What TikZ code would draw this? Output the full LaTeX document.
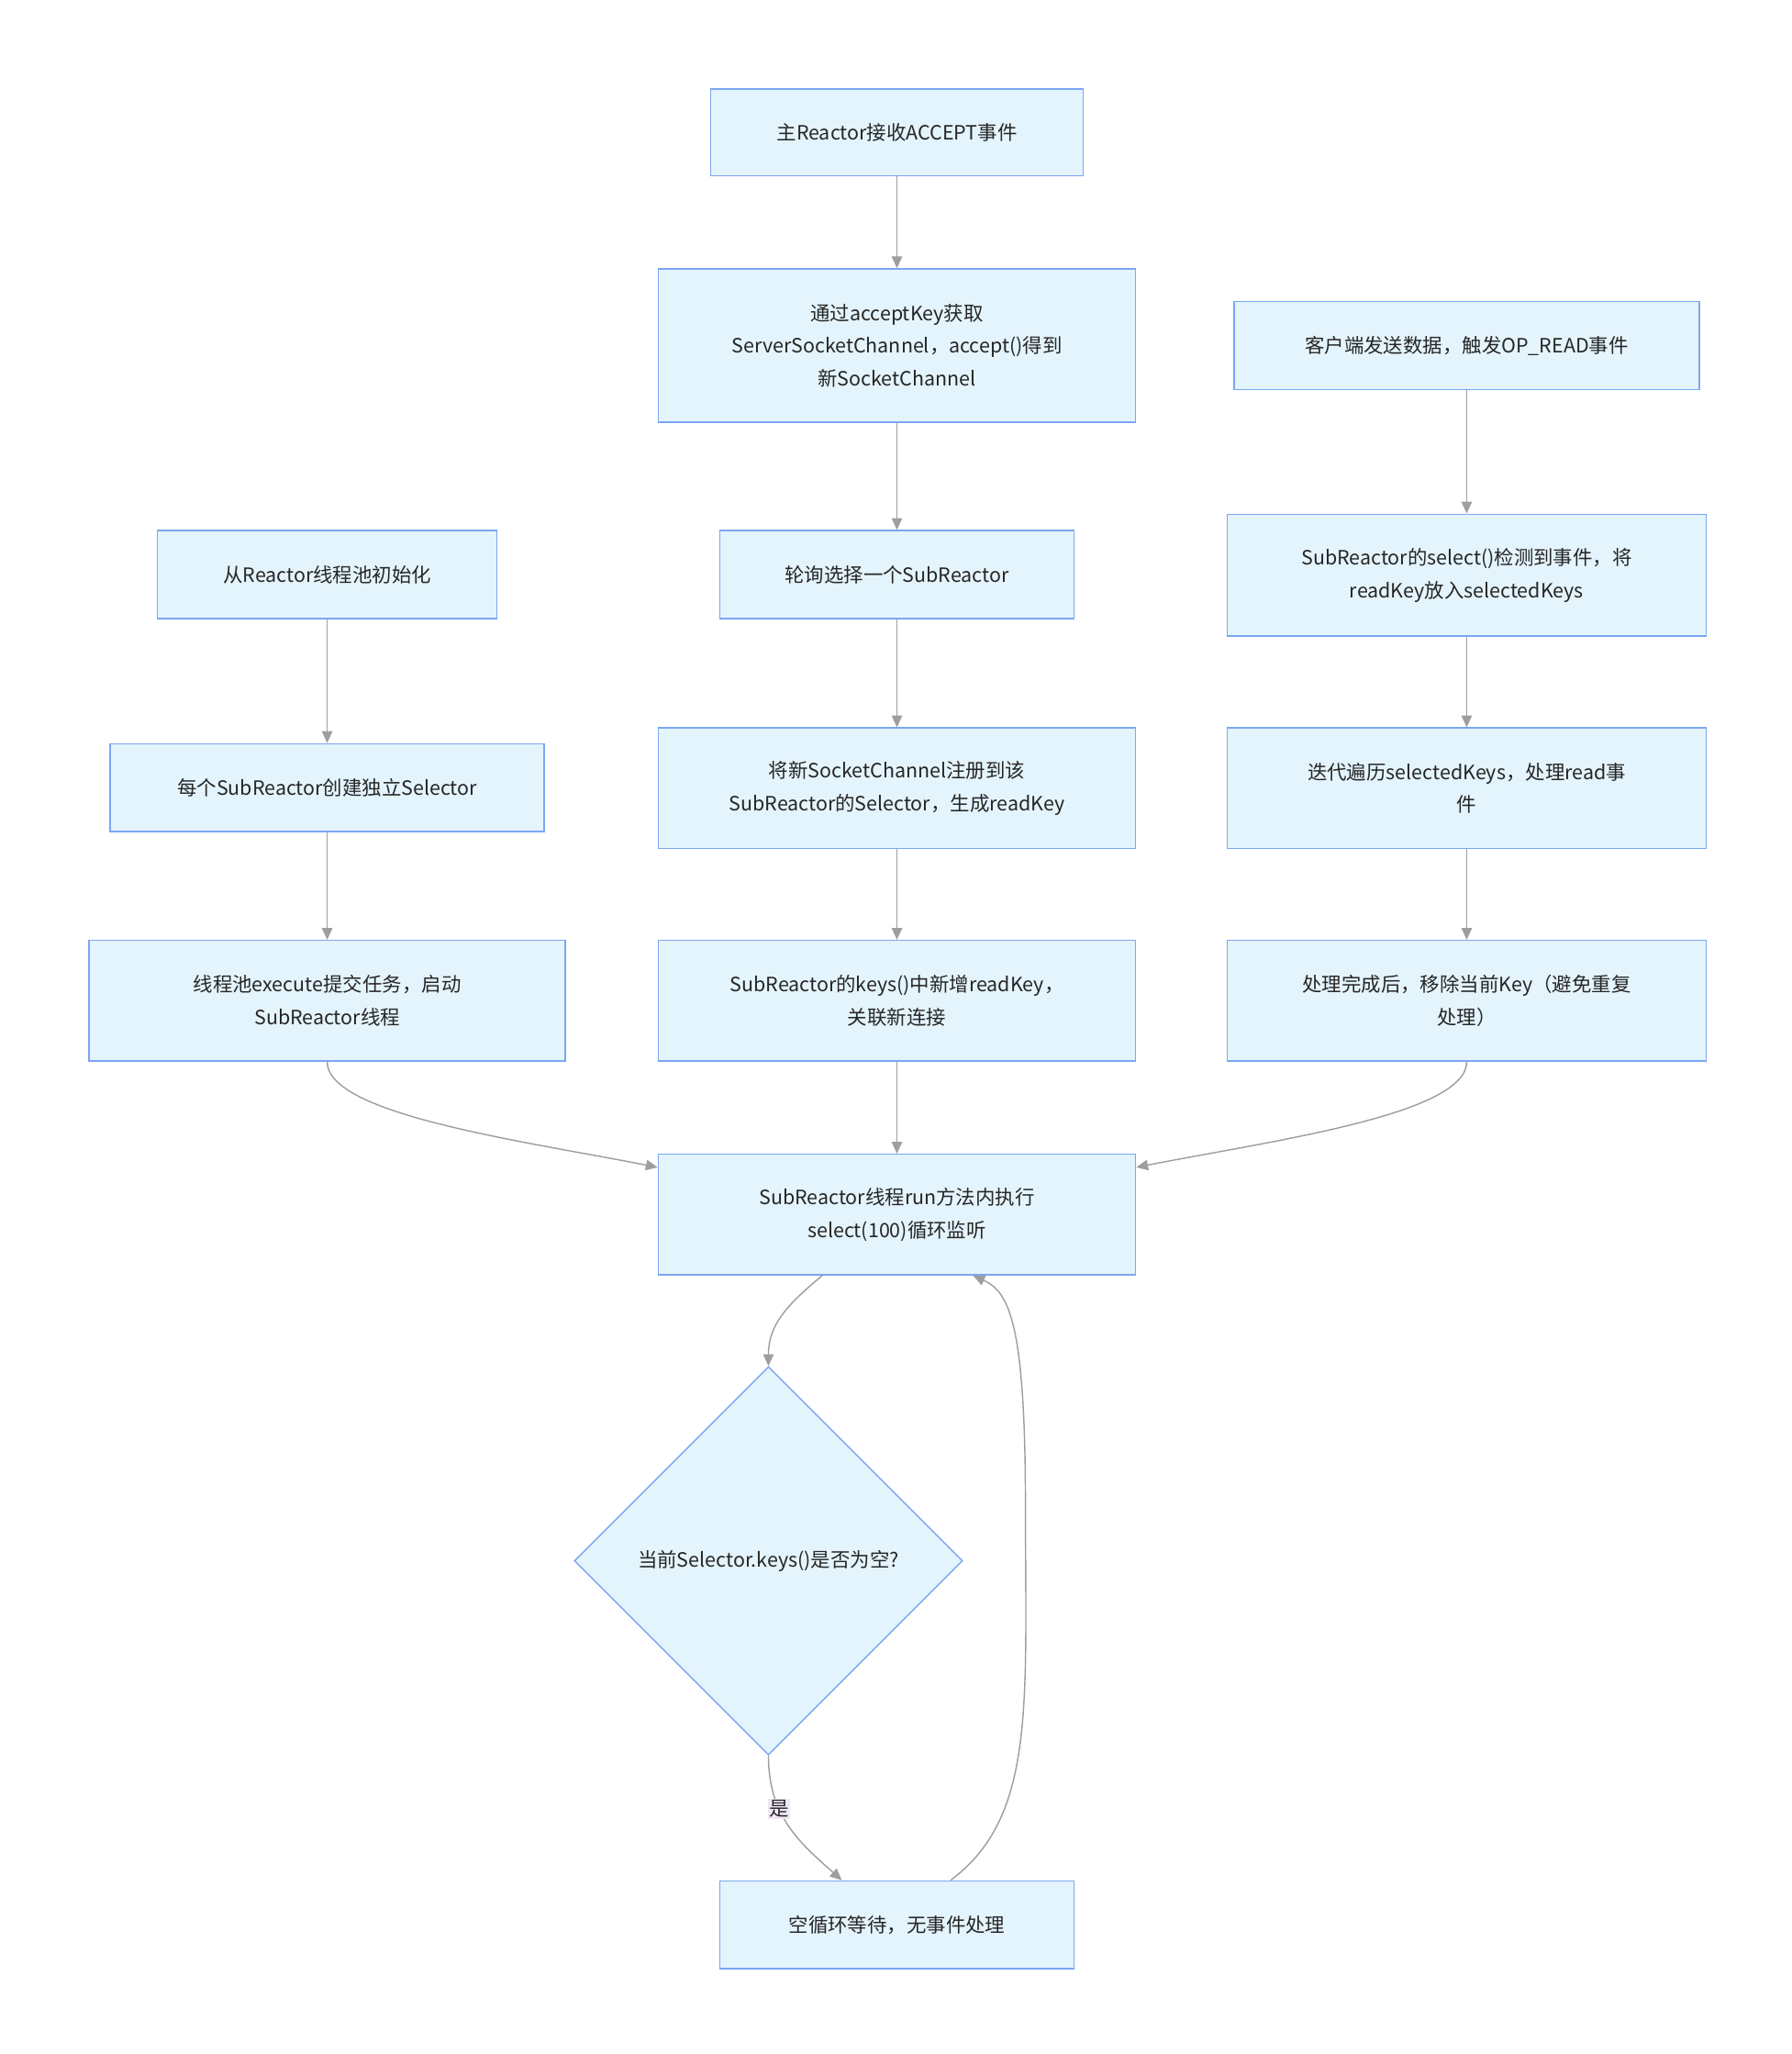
\documentclass[tikz,border=0pt]{standalone}
\usepackage{fontspec}
\setmainfont{Noto Sans CJK SC}
\usetikzlibrary{shapes.geometric,arrows.meta}
\definecolor{boxfill}{HTML}{E4F4FC}
\definecolor{boxline}{HTML}{7BA6F2}
\definecolor{lnk}{HTML}{9E9E9E}
\definecolor{lblbg}{HTML}{EEE6F5}
\tikzset{
  proc/.style={draw=boxline,fill=boxfill,line width=1pt,align=center,
    font=\fontsize{15}{25}\selectfont,text=black!85,inner sep=0pt},
  choice/.style={diamond,draw=boxline,fill=boxfill,line width=1pt,align=center,
    font=\fontsize{15}{25}\selectfont,text=black!85,minimum width=296pt,minimum height=296pt,inner sep=0pt},
  link/.style={draw=lnk,line width=1pt,-{Triangle[length=9pt,width=8pt]}}
}
\begin{document}
\begin{tikzpicture}[x=1pt,y=-1pt]
  \useasboundingbox (0,0) rectangle (1366,1566);
  % middle column
  \node[proc,minimum width=284pt,minimum height=66pt] (accept) at (684,101) {主Reactor接收ACCEPT事件};
  \node[proc,minimum width=364pt,minimum height=117pt] (getch) at (684,263.5) {通过acceptKey获取\\ServerSocketChannel，accept()得到\\新SocketChannel};
  \node[proc,minimum width=270pt,minimum height=67pt] (pick) at (684,438) {轮询选择一个SubReactor};
  \node[proc,minimum width=364pt,minimum height=92pt] (reg) at (684,601) {将新SocketChannel注册到该\\SubReactor的Selector，生成readKey};
  \node[proc,minimum width=364pt,minimum height=92pt] (keys) at (684,763) {SubReactor的keys()中新增readKey，\\关联新连接};
  % left column
  \node[proc,minimum width=259pt,minimum height=67pt] (init) at (249.5,438) {从Reactor线程池初始化};
  \node[proc,minimum width=331pt,minimum height=67pt] (sel) at (249.5,600.5) {每个SubReactor创建独立Selector};
  \node[proc,minimum width=363pt,minimum height=92pt] (exec) at (249.5,763) {线程池execute提交任务，启动\\SubReactor线程};
  % right column
  \node[proc,minimum width=355pt,minimum height=67pt] (client) at (1118.5,263.5) {客户端发送数据，触发OP\_READ事件};
  \node[proc,minimum width=365pt,minimum height=93pt] (detect) at (1118.5,438.5) {SubReactor的select()检测到事件，将\\readKey放入selectedKeys};
  \node[proc,minimum width=365pt,minimum height=92pt] (iter) at (1118.5,601) {迭代遍历selectedKeys，处理read事\\件};
  \node[proc,minimum width=365pt,minimum height=92pt] (done) at (1118.5,763) {处理完成后，移除当前Key（避免重复\\处理）};
  % loop
  \node[proc,minimum width=364pt,minimum height=92pt] (run) at (684,926) {SubReactor线程run方法内执行\\select(100)循环监听};
  \node[choice] (empty) at (586,1190) {当前Selector.keys()是否为空?};
  \node[proc,minimum width=270pt,minimum height=67pt] (idle) at (684,1467.5) {空循环等待，无事件处理};

  \path[link] (accept) -- (getch);
  \path[link] (getch) -- (pick);
  \path[link] (pick) -- (reg);
  \path[link] (reg) -- (keys);
  \path[link] (keys) -- (run);
  \path[link] (init) -- (sel);
  \path[link] (sel) -- (exec);
  \path[link] (client) -- (detect);
  \path[link] (detect) -- (iter);
  \path[link] (iter) -- (done);
  \path[link] (exec.south) .. controls (249.5,850) and (400,870) .. (run.west |- 0,890);
  \path[link] (done.south) .. controls (1118.5,850) and (968,870) .. (run.east |- 0,890);
  \path[link] (run.south -| 627,0) .. controls (600,995) and (586,1010) .. (empty.north);
  \path[link] (empty.south) .. controls (586,1385) and (610,1405) .. node[pos=0.35,fill=lblbg,inner sep=1pt,font=\fontsize{15}{18}\selectfont,text=black!85] {是} (idle.north -| 642,0);
  \path[link] (idle.north -| 725,0) .. controls (790,1385) and (782,1300) .. (782,1150) .. controls (782,1010) and (770,985) .. (run.south -| 742,0);
\end{tikzpicture}
\end{document}
